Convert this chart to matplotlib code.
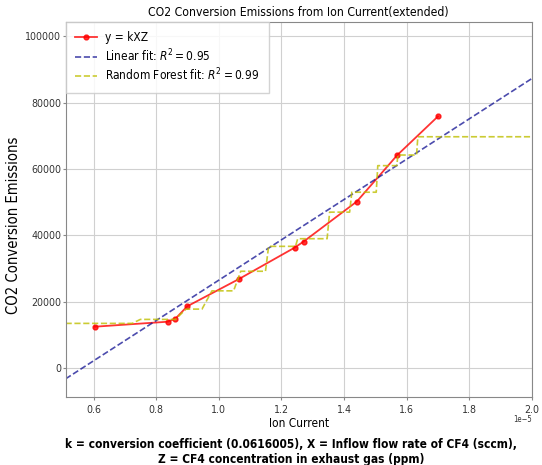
import numpy as np
import matplotlib
matplotlib.use("Agg")
import matplotlib.pyplot as plt

# ion current (x 1e-5) vs CO2 conversion emissions
ion_current = np.array([0.603, 0.836, 0.861, 0.899, 1.063, 1.242, 1.271, 1.441, 1.570, 1.700]) * 1e-5
emissions = [12500, 14000, 14900, 18650, 26800, 36300, 38150, 50200, 64150, 75800]

# linear fit line end points (value at the two axis edges)
lin_x = np.array([0.51, 2.0]) * 1e-5
lin_y = [-3200, 87200]

# random forest prediction curve (vertices of the step curve)
rf_x = np.array([0.51, 0.723, 0.749, 0.861, 0.895, 0.946, 0.978, 1.047, 1.070, 1.149,
                 1.159, 1.245, 1.252, 1.346, 1.354, 1.418, 1.425, 1.503, 1.508, 1.569,
                 1.572, 1.632, 1.636, 2.0]) * 1e-5
rf_y = [13500, 13500, 14700, 14700, 17800, 17800, 23300, 23300, 29200, 29200,
        36700, 36700, 39000, 39000, 47000, 47000, 53000, 53000, 61000, 61000,
        64200, 64200, 69700, 69700]

# the reference text is a bit narrower than plain DejaVu Sans
plt.rcParams["font.family"] = ["DejaVu Sans"]
plt.rcParams["font.stretch"] = "condensed"

fig = plt.figure(figsize=(5.42, 4.65), dpi=100)
ax = fig.add_axes([0.121, 0.146, 0.860, 0.807])

ax.plot(ion_current, emissions, color="red", alpha=0.8, marker="o", markersize=3.5,
        linewidth=1.3, label="y = kXZ")
ax.plot(lin_x, lin_y, color="darkblue", alpha=0.7, linestyle="--", linewidth=1.2,
        label="Linear fit: $R^2 = 0.95$")
ax.plot(rf_x, rf_y, color="y", alpha=0.8, linestyle="--", linewidth=1.2,
        label="Random Forest fit: $R^2 = 0.99$")

ax.set_xlim(0.51e-5, 2.0e-5)
ax.set_ylim(-8700, 104300)
ax.set_yticks([0, 20000, 40000, 60000, 80000, 100000])

ax.grid(True, color="#d0d0d0", linewidth=0.8)
ax.set_axisbelow(True)
for s in ax.spines.values():
    s.set_color("#888888")
ax.tick_params(labelsize=7.6, colors="#333333", length=2, color="#888888")
ax.tick_params(axis="y", pad=1.2)
ax.tick_params(axis="x", pad=4)
off = ax.xaxis.get_offset_text()
off.set_fontsize(5.5)
off.set_verticalalignment("center")

ax.set_title("CO2 Conversion Emissions from Ion Current(extended)", fontsize=8.7, pad=4)
ax.set_xlabel("Ion Current", fontsize=8.6, labelpad=1)
ax.set_ylabel("CO2 Conversion Emissions", fontsize=10.6)
ax.yaxis.set_label_coords(-0.096, 0.459)

ax.legend(loc="upper left", fontsize=8.6, borderaxespad=0, fancybox=False,
          edgecolor="#cccccc", framealpha=0.85, handlelength=1.8,
          handletextpad=0.7, borderpad=0.8, numpoints=1, labelspacing=0.25)

fig.text(0.537, 0.029,
         "k = conversion coefficient (0.0616005), X = Inflow flow rate of CF4 (sccm),\n"
         "Z = CF4 concentration in exhaust gas (ppm)",
         ha="center", va="center", multialignment="center",
         fontsize=8.6, fontweight="bold")

fig.savefig("out.png", dpi=100)
